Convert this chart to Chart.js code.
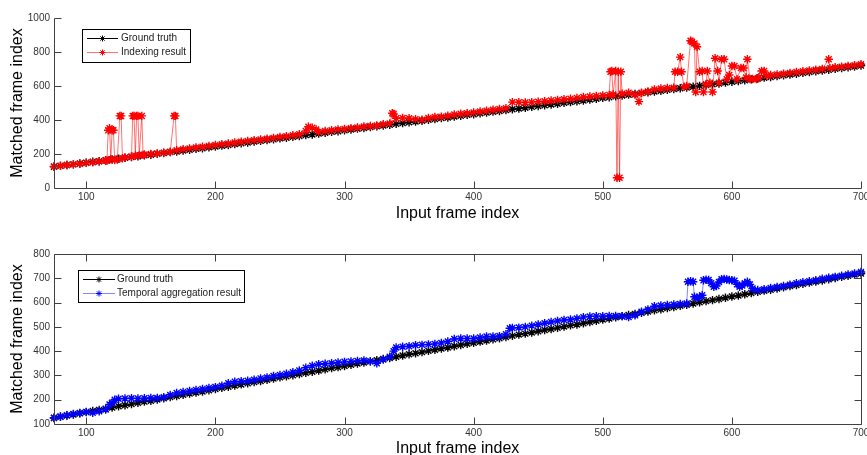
<!DOCTYPE html>
<html>
<head>
<meta charset="utf-8">
<script src="https://cdn.jsdelivr.net/npm/chart.js@4.4.1/dist/chart.umd.min.js"></script>
<style>
  html, body { margin: 0; padding: 0; background: #fff; overflow: hidden; }
  canvas { position: absolute; left: 0; }
  #top { top: 0; }
  #bottom { top: 228px; }
</style>
</head>
<body>
<canvas id="top" width="867" height="228"></canvas>
<canvas id="bottom" width="867" height="240"></canvas>
<script>
// tick labels
const xTicks = [100, 200, 300, 400, 500, 600, 700];
const yTicksTop = [0, 200, 400, 600, 800, 1000];
const yTicksBottom = [100, 200, 300, 400, 500, 600, 700, 800];

// ground truth (shared by both plots)
const gtFrames = [75,80,85,90,95,100,105,110,115,120,125,130,135,140,145,150,155,160,165,170,
  175,180,185,190,195,200,205,210,215,220,225,230,235,240,245,250,255,260,265,270,
  275,280,285,290,295,300,305,310,315,320,325,330,335,340,345,350,355,360,365,370,
  375,380,385,390,395,400,405,410,415,420,425,430,435,440,445,450,455,460,465,470,
  475,480,485,490,495,500,505,510,515,520,525,530,535,540,545,550,555,560,565,570,
  575,580,585,590,595,600,605,610,615,620,625,630,635,640,645,650,655,660,665,670,
  675,680,685,690,695,700];
const gtValues = [125,130,135,139,144,149,154,158,163,168,173,177,182,187,192,196,201,206,211,215,
  220,225,230,234,239,244,249,253,258,263,268,273,277,282,287,292,296,301,306,311,
  315,320,325,330,334,339,344,349,353,358,363,368,372,377,382,387,391,396,401,406,
  411,415,420,425,430,434,439,444,449,453,458,463,468,472,477,482,487,491,496,501,
  506,510,515,520,525,530,534,539,544,549,553,558,563,568,572,577,582,587,591,596,
  601,606,610,615,620,625,629,634,639,644,649,653,658,663,668,672,677,682,687,691,
  696,701,706,710,715,720];

// indexing result (top plot)
const idxFrames = [75,80,85,90,95,100,105,110,115,
  116,117,118,119,120,121,122,124,
  126,127,128,130,135,136,137,138,139,140,141,143,144,145,
  150,155,160,165,168,169,170,
  175,180,185,190,195,200,205,210,215,220,225,230,235,240,245,250,255,260,265,
  270,272,275,278,280,
  285,290,295,300,305,310,315,320,325,330,335,
  337,338,340,
  345,350,355,360,365,370,375,380,385,390,395,400,405,410,415,420,425,
  430,435,440,445,450,455,460,465,470,475,480,485,490,495,500,505,
  506,507,508,510,511,512,513,514,515,
  520,525,528,530,535,540,545,550,555,
  556,558,560,561,563,565,
  568,569,571,572,573,575,577,578,580,581,583,585,
  587,589,590,592,594,596,598,600,602,604,607,609,611,612,614,616,619,621,623,625,627,
  630,635,640,645,650,655,660,665,670,675,676,680,685,690,695,700];
const idxValues = [127,131,135,139,143,148,151,156,162,
  160,340,352,170,340,340,165,168,
  424,424,175,180,185,424,424,190,424,424,192,424,195,197,
  200,203,208,213,424,424,222,
  228,233,238,243,248,253,257,262,268,272,277,281,285,290,295,300,305,310,316,
  335,360,355,345,330,
  335,340,345,348,352,356,362,365,368,375,380,
  440,435,410,
  412,410,405,402,412,418,420,425,432,437,440,445,450,455,460,465,470,
  505,505,503,505,508,510,515,518,522,525,530,535,538,542,545,548,
  684,688,550,688,60,684,60,684,555,
  560,550,508,560,568,580,585,588,590,
  684,684,770,684,595,600,
  866,860,850,565,831,684,688,565,610,688,620,565,
  763,688,620,757,757,640,665,718,718,640,706,706,650,757,641,641,641,650,688,688,660,
  665,668,672,677,682,687,692,696,700,757,705,710,714,718,723,728];

// temporal aggregation result (bottom plot)
const aggFrames = [75,80,85,90,95,100,105,110,115,
  118,120,122,125,130,135,140,145,150,155,160,165,
  170,175,180,185,190,195,200,205,210,215,220,225,230,235,240,245,250,255,260,265,
  270,275,280,285,290,295,300,305,310,315,320,325,330,335,
  338,340,
  345,350,355,360,365,370,375,380,385,390,395,400,405,410,415,420,425,
  428,430,435,440,445,450,455,460,465,470,475,480,485,490,495,500,505,510,515,520,
  525,530,535,540,545,550,555,560,565,
  566,568,570,571,573,575,577,578,580,582,584,586,588,590,592,594,596,598,600,602,
  604,606,608,610,612,614,616,
  620,625,630,635,640,645,650,655,660,665,670,675,680,685,690,695,700];
const aggValues = [126,131,136,141,145,150,146,152,160,
  180,188,200,204,205,206,205,206,207,207,210,220,
  228,232,236,240,244,248,252,258,268,274,276,278,282,288,292,298,302,307,313,320,
  332,340,346,348,350,353,356,358,360,362,358,350,365,377,
  400,415,
  418,420,424,426,428,430,434,440,450,452,452,452,456,460,460,462,470,
  494,495,497,500,505,510,515,520,524,528,530,535,540,543,544,544,545,545,544,540,
  548,562,572,585,588,590,592,594,596,
  686,688,686,624,620,622,630,692,694,693,680,665,668,685,696,697,695,693,692,690,
  675,665,670,680,686,675,658,
  652,655,660,664,668,674,680,684,688,692,698,702,706,711,716,720,726];

const axisColor = '#404040';
const tickFont = {family: 'Liberation Sans', size: 10};
const titleFont = {family: 'Liberation Sans', size: 16};
const legendFont = '10px "Liberation Sans"';

function pts(xs, ys) {
  return xs.map((x, i) => ({x: x, y: ys[i]}));
}

function series(label, xs, ys, line, mark, order) {
  return {
    label: label,
    data: pts(xs, ys),
    borderColor: line,
    borderWidth: 1,
    pointStyle: 'star',
    pointRadius: 4.2,
    pointBorderColor: mark,
    pointBackgroundColor: mark,
    pointBorderWidth: 1.4,
    legendMark: mark,
    order: order,
    clip: false
  };
}

function star(ctx, cx, cy, r) {
  ctx.beginPath();
  ctx.moveTo(cx - r, cy); ctx.lineTo(cx + r, cy);
  ctx.moveTo(cx, cy - r); ctx.lineTo(cx, cy + r);
  const d = r * 0.7071;
  ctx.moveTo(cx - d, cy - d); ctx.lineTo(cx + d, cy + d);
  ctx.moveTo(cx - d, cy + d); ctx.lineTo(cx + d, cy - d);
  ctx.stroke();
}

// MATLAB style axes: inward ticks, optional full box
const innerTicks = {
  id: 'innerTicks',
  afterDatasetsDraw(chart, args, opts) {
    const {ctx, chartArea: a, scales: {x, y}} = chart;
    const L = 7;
    ctx.save();
    ctx.strokeStyle = axisColor;
    ctx.lineWidth = 1;
    ctx.beginPath();
    const l = Math.round(a.left) + 0.5, r = Math.round(a.right) + 0.5;
    const t = Math.round(a.top) + 0.5, b = Math.round(a.bottom) + 0.5;
    ctx.moveTo(l, t); ctx.lineTo(l, b); ctx.lineTo(r, b);
    if (opts.box) { ctx.lineTo(r, t); ctx.lineTo(l, t); }
    x.ticks.forEach(tk => {
      const px = Math.round(x.getPixelForValue(tk.value)) + 0.5;
      ctx.moveTo(px, b); ctx.lineTo(px, b - L);
      if (opts.box) { ctx.moveTo(px, t); ctx.lineTo(px, t + L); }
    });
    y.ticks.forEach(tk => {
      const py = Math.round(y.getPixelForValue(tk.value)) + 0.5;
      ctx.moveTo(l, py); ctx.lineTo(l + L, py);
      if (opts.box) { ctx.moveTo(r, py); ctx.lineTo(r - L, py); }
    });
    ctx.stroke();
    ctx.restore();
  }
};

// boxed legend drawn inside the axes
const boxLegend = {
  id: 'boxLegend',
  afterDraw(chart, args, opts) {
    const ctx = chart.ctx;
    ctx.save();
    ctx.fillStyle = '#fff';
    ctx.fillRect(opts.left, opts.top, opts.width, opts.height);
    ctx.strokeStyle = '#000';
    ctx.lineWidth = 1;
    ctx.strokeRect(opts.left + 0.5, opts.top + 0.5, opts.width, opts.height);
    ctx.font = legendFont;
    ctx.textBaseline = 'middle';
    chart.data.datasets.forEach((ds, i) => {
      const yy = opts.rows[i] + 0.5;
      ctx.strokeStyle = ds.borderColor;
      ctx.beginPath();
      ctx.moveTo(opts.lineFrom, yy); ctx.lineTo(opts.lineTo, yy);
      ctx.stroke();
      ctx.strokeStyle = ds.legendMark;
      star(ctx, (opts.lineFrom + opts.lineTo) / 2, yy, 3);
      ctx.fillStyle = '#222';
      ctx.fillText(ds.label, opts.textX, yy);
    });
    ctx.restore();
  }
};

function makeChart(id, datasets, yMin, yMax, yTicks, cfg) {
  return new Chart(document.getElementById(id), {
    type: 'line',
    data: {datasets: datasets},
    options: {
      responsive: false,
      animation: false,
      devicePixelRatio: 1,
      layout: {padding: {left: 0, right: 6, top: cfg.padTop, bottom: 0}},
      plugins: {
        legend: {display: false},
        tooltip: {enabled: false},
        innerTicks: {box: cfg.box},
        boxLegend: cfg.legend
      },
      scales: {
        x: {
          type: 'linear',
          min: 75,
          max: 700,
          afterBuildTicks: s => { s.ticks = xTicks.map(v => ({value: v})); },
          afterFit: s => { s.height = cfg.xHeight; s.paddingLeft = 0; s.paddingRight = 0; },
          grid: {display: false, drawTicks: false},
          border: {display: false},
          ticks: {padding: 3, color: '#333', font: tickFont, maxRotation: 0,
                  callback: v => String(v)},
          title: {display: true, text: 'Input frame index', color: '#000', font: titleFont,
                  padding: {top: 0, bottom: cfg.xTitlePad}}
        },
        y: {
          type: 'linear',
          min: yMin,
          max: yMax,
          afterBuildTicks: s => { s.ticks = yTicks.map(v => ({value: v})); },
          afterFit: s => { s.width = 54; s.paddingTop = 0; s.paddingBottom = 0; },
          grid: {display: false, drawTicks: false},
          border: {display: false},
          ticks: {padding: 4, color: '#333', font: tickFont, callback: v => String(v)},
          title: {display: true, text: 'Matched frame index', color: '#000', font: titleFont,
                  padding: {top: 8, bottom: 0}}
        }
      }
    },
    plugins: [innerTicks, boxLegend]
  });
}

makeChart('top', [
  series('Ground truth', gtFrames, gtValues, '#000', '#000', 2),
  series('Indexing result', idxFrames, idxValues, 'rgba(255,0,0,0.55)', '#ff0000', 1)
], 0, 1000, yTicksTop, {
  padTop: 18, xHeight: 40, xTitlePad: 5, box: false,
  legend: {left: 82, top: 29, width: 108, height: 33, rows: [38, 52], lineFrom: 87, lineTo: 118, textX: 121}
});

makeChart('bottom', [
  series('Ground truth', gtFrames, gtValues, '#000', '#000', 2),
  series('Temporal aggregation result', aggFrames, aggValues, 'rgba(80,80,255,0.7)', '#0000ff', 1)
], 100, 800, yTicksBottom, {
  padTop: 26, xHeight: 44, xTitlePad: 10, box: true,
  legend: {left: 78, top: 42, width: 166, height: 32, rows: [51, 65], lineFrom: 83, lineTo: 115, textX: 117}
});
</script>
</body>
</html>
